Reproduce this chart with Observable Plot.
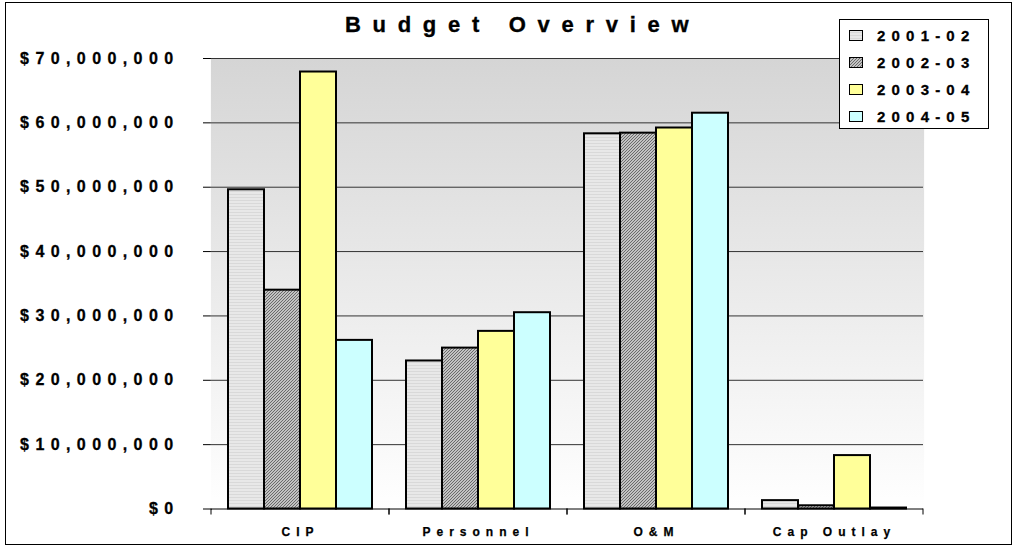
<!DOCTYPE html>
<html>
<head>
<meta charset="utf-8">
<script src="https://cdn.jsdelivr.net/npm/d3@7"></script>
<script src="https://cdn.jsdelivr.net/npm/@observablehq/plot@0.6"></script>
<style>
  body { margin: 0; background: #fff; font-family: "Liberation Sans", Arial, sans-serif; }
  #chart { position: relative; width: 1018px; height: 546px; overflow: hidden; }
  #frame { position: absolute; left: 5px; top: 2px; width: 1007px; height: 543px; box-sizing: border-box; border: 1.5px solid #000; pointer-events: none; }
  #title { position: absolute; left: 345px; top: 14px; font-size: 22px; line-height: 22px; font-weight: bold; letter-spacing: 11.7px; white-space: nowrap; color: #000; -webkit-text-stroke: 0.35px #000; }
  #legend { position: absolute; left: 839px; top: 19px; width: 150px; height: 110px; box-sizing: border-box; border: 1px solid #000; background: #fff; }
  .item { position: absolute; left: 9px; height: 20px; display: flex; align-items: center; white-space: nowrap; }
  .item svg { display: block; margin-right: 14px; }
  .item span { font-size: 15px; font-weight: bold; letter-spacing: 6.2px; -webkit-text-stroke: 0.3px #000; }
  #plot { position: absolute; left: 0; top: 0; }
  #plot svg { font-family: "Liberation Sans", Arial, sans-serif; font-weight: bold; overflow: visible; }
  #plot g[aria-label^="y-axis"] text { font-size: 16px; letter-spacing: 6.4px; stroke: #000; stroke-width: 0.3px; }
  #plot g[aria-label^="fx-axis"] text { font-size: 12px; letter-spacing: 6px; stroke: #000; stroke-width: 0.25px; }
</style>
</head>
<body>
<div id="chart">
  <div id="plot"></div>
  <div id="title"></div>
  <div id="legend"></div>
  <div id="frame"></div>
</div>
<script>
// Budget by category and fiscal year (dollars)
const categories = ["CIP", "Personnel", "O&M", "Cap Outlay"];
const years = ["2001-02", "2002-03", "2003-04", "2004-05"];
const cip = [49600000, 34000000, 67900000, 26200000];
const personnel = [23000000, 25000000, 27600000, 30500000];
const om = [58300000, 58400000, 59200000, 61500000];
const capOutlay = [1300000, 500000, 8300000, 150000];
const yTicks = [0, 10000000, 20000000, 30000000, 40000000, 50000000, 60000000, 70000000];
const titleText = "Budget Overview";

const valuesByCategory = [cip, personnel, om, capOutlay];
const table = categories.flatMap((category, i) =>
  years.map((year, j) => ({category, year, value: valuesByCategory[i][j]}))
);

// Shared fills: textured patterns for the first two years and the wall gradient
const defsSvg = d3.select("#chart").append("svg")
  .attr("width", 0).attr("height", 0)
  .style("position", "absolute");
const defs = defsSvg.append("defs");

const wall = defs.append("linearGradient").attr("id", "wall").attr("x1", 0).attr("y1", 0).attr("x2", 0).attr("y2", 1);
wall.append("stop").attr("offset", 0).attr("stop-color", "#d5d5d5");
wall.append("stop").attr("offset", 1).attr("stop-color", "#ffffff");

const stripes = defs.append("pattern").attr("id", "fill-a").attr("patternUnits", "userSpaceOnUse").attr("width", 4).attr("height", 3);
stripes.append("rect").attr("width", 4).attr("height", 3).attr("fill", "#e8e8e8");
stripes.append("rect").attr("y", 2).attr("width", 4).attr("height", 1).attr("fill", "#d9d9d9");

// fine diagonal checker texture
const hatch = defs.append("pattern").attr("id", "fill-b").attr("patternUnits", "userSpaceOnUse").attr("width", 3).attr("height", 3)
  .attr("shape-rendering", "crispEdges");
hatch.append("rect").attr("width", 3).attr("height", 3).attr("fill", "#c2c2c2");
for (const [px, py] of [[0, 2], [1, 1], [2, 0]]) {
  hatch.append("rect").attr("x", px).attr("y", py).attr("width", 1).attr("height", 1).attr("fill", "#6a6a6a");
}

const yearFills = ["url(#fill-a)", "url(#fill-b)", "#ffff99", "#ccffff"];

// Category boundary ticks under the baseline, drawn in every facet
function boundaryTicks(index, scales, values, dimensions) {
  const {marginLeft, marginRight, marginBottom, width, height} = dimensions;
  const y0 = height - marginBottom;
  const g = d3.create("svg:g").attr("stroke", "#000").attr("stroke-width", 1);
  for (const x of [marginLeft, width - marginRight]) {
    g.append("line").attr("x1", x).attr("x2", x).attr("y1", y0).attr("y2", y0 + 6);
  }
  return g.node();
}

const chart = Plot.plot({
  width: 1018,
  height: 546,
  marginLeft: 210,
  marginRight: 94,
  marginTop: 58,
  marginBottom: 37.5,
  fx: {domain: categories, padding: 0, label: null, tickSize: 0, tickPadding: 18.5},
  x: {domain: years, paddingInner: 0, paddingOuter: 0.445, axis: null},
  y: {
    domain: [0, 70000000],
    ticks: yTicks,
    tickFormat: d => "$" + d3.format(",")(d),
    tickSize: 8,
    tickPadding: 24,
    label: null,
    line: true
  },
  color: {domain: years, range: yearFills},
  marks: [
    Plot.frame({fill: "url(#wall)", stroke: "none", insetLeft: -0.6, insetRight: -0.6}),
    Plot.ruleY(yTicks.slice(1), {stroke: "#333", strokeWidth: 1}),
    Plot.barY(table, {fx: "category", x: "year", y: "value", fill: "year", stroke: "#000", strokeWidth: 2}),
    Plot.ruleY([0], {stroke: "#000", strokeWidth: 1}),
    boundaryTicks
  ]
});
document.getElementById("plot").appendChild(chart);

document.getElementById("title").textContent = titleText;

// Legend built from the color scale
const colorScale = chart.scale("color");
const legend = d3.select("#legend");
years.forEach((year, i) => {
  const item = legend.append("div").attr("class", "item").style("top", (5 + i * 27.3) + "px");
  const sw = item.append("svg").attr("width", 14).attr("height", 11);
  sw.append("rect").attr("x", 0.5).attr("y", 0.5).attr("width", 13).attr("height", 10)
    .attr("fill", colorScale.apply(year)).attr("stroke", "#000").attr("stroke-width", 1);
  item.append("span").text(year);
});
</script>
</body>
</html>
